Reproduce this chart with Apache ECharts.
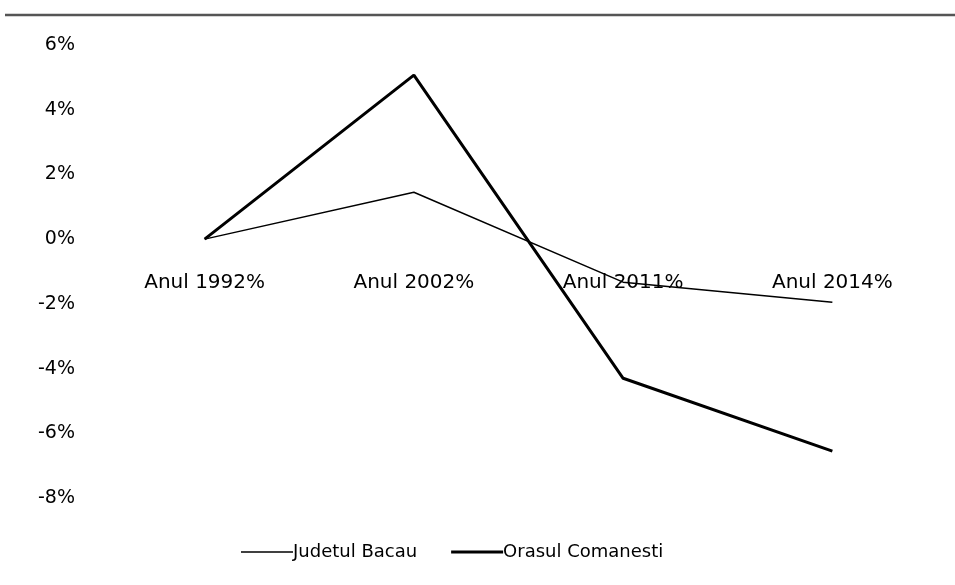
<!DOCTYPE html>
<html>
<head>
<meta charset="utf-8">
<script src="https://cdn.jsdelivr.net/npm/echarts@6/dist/echarts.min.js"></script>
<style>html,body{margin:0;padding:0;background:#fff;}#c{width:955px;height:585px;}</style>
</head>
<body>
<div id="c"></div>
<script>
var categories = ["Anul 1992%", "Anul 2002%", "Anul 2011%", "Anul 2014%"];
var judetulBacau = [0, 1.45, -1.33, -1.95];
var orasulComanesti = [0, 5.07, -4.3, -6.55];
var yTickLabels = {"6": "6%", "4": "4%", "2": "2%", "0": "0%", "-2": "-2%", "-4": "-4%", "-6": "-6%", "-8": "-8%"};
var seriesNames = ["Judetul Bacau", "Orasul Comanesti"];

var chart = echarts.init(document.getElementById('c'), null, {renderer: 'canvas'});
var font = "DejaVu Sans";
chart.setOption({
  backgroundColor: '#fff',
  animation: false,
  graphic: [{
    type: 'line',
    shape: {x1: 5, y1: 15, x2: 955, y2: 15},
    style: {stroke: '#555', lineWidth: 2.5}
  }],
  grid: {left: 100, right: 18, top: 45, bottom: 87, containLabel: false},
  legend: {
    bottom: 19,
    left: 236,
    itemWidth: 52,
    itemHeight: 10,
    itemGap: 34,
    textStyle: {fontFamily: font, fontSize: 18, color: '#000', padding: [0, 0, 0, -5]},
    data: [
      {name: seriesNames[0], itemStyle: {color: '#000'}, icon: 'path://M0,4.2 L52,4.2 L52,5.8 L0,5.8 Z'},
      {name: seriesNames[1], itemStyle: {color: '#000'}, icon: 'path://M0,3.5 L52,3.5 L52,6.5 L0,6.5 Z'}
    ]
  },
  xAxis: {
    type: 'category',
    data: categories,
    boundaryGap: true,
    axisLine: {show: true, onZero: true, lineStyle: {opacity: 0}},
    axisTick: {show: false},
    axisLabel: {fontFamily: font, fontSize: 20, color: '#000', margin: -225}
  },
  yAxis: {
    type: 'value',
    min: -8,
    max: 6,
    interval: 2,
    splitLine: {show: false},
    axisLine: {show: false},
    axisTick: {show: false},
    axisLabel: {
      fontFamily: font, fontSize: 19, color: '#000', margin: 25,
      formatter: function (v) { return yTickLabels[String(v)] || (v + '%'); }
    }
  },
  series: [
    {name: seriesNames[0], type: 'line', data: judetulBacau, symbol: 'none',
     lineStyle: {color: '#000', width: 1.5}, itemStyle: {color: '#000'}},
    {name: seriesNames[1], type: 'line', data: orasulComanesti, symbol: 'none',
     lineStyle: {color: '#000', width: 3}, itemStyle: {color: '#000'}}
  ]
});
</script>
</body>
</html>
